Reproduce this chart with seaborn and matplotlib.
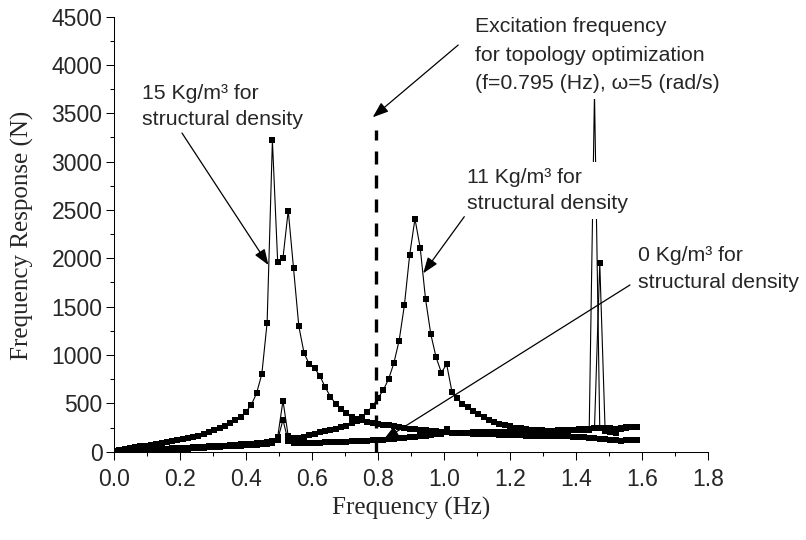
import matplotlib
matplotlib.use("Agg")
import matplotlib.pyplot as plt
from matplotlib.ticker import MultipleLocator, FormatStrFormatter
import seaborn as sns

# ---------------- data ----------------
freq_hz = [
    0.000, 0.016, 0.032, 0.048, 0.064, 0.080, 0.096, 0.112, 0.128, 0.144,
    0.160, 0.176, 0.192, 0.208, 0.224, 0.240, 0.256, 0.272, 0.288, 0.304,
    0.320, 0.336, 0.352, 0.368, 0.384, 0.400, 0.416, 0.432, 0.448, 0.464,
    0.480, 0.496, 0.512, 0.528, 0.544, 0.560, 0.576, 0.592, 0.608, 0.624,
    0.640, 0.656, 0.672, 0.688, 0.704, 0.720, 0.736, 0.752, 0.768, 0.784,
    0.800, 0.816, 0.832, 0.848, 0.864, 0.880, 0.896, 0.912, 0.928, 0.944,
    0.960, 0.976, 0.992, 1.008, 1.024, 1.040, 1.056, 1.072, 1.088, 1.104,
    1.120, 1.136, 1.152, 1.168, 1.184, 1.200, 1.216, 1.232, 1.248, 1.264,
    1.280, 1.296, 1.312, 1.328, 1.344, 1.360, 1.376, 1.392, 1.408, 1.424,
    1.440, 1.456, 1.472, 1.488, 1.504, 1.520, 1.536, 1.552, 1.568, 1.584,
]

# 15 Kg/m^3 structural density
resp_15 = [
    8, 20, 29, 37, 45, 55, 64, 72, 81, 90,
    99, 108, 118, 129, 140, 152, 165, 182, 200, 220,
    242, 266, 294, 326, 362, 414, 483, 604, 804, 1335,
    3219, 1960, 2001, 2494, 1898, 1300, 1018, 904, 862, 783,
    666, 569, 493, 438, 397, 362, 340, 325, 312, 300,
    290, 280, 271, 262, 254, 246, 239, 232, 226, 220,
    215, 210, 206, 202, 198, 195, 192, 189, 186, 184,
    182, 180, 178, 176, 174, 172, 170, 168, 167, 166,
    165, 164, 163, 162, 161, 160, 158, 156, 153, 149,
    145, 140, 135, 128, 122, 117, 114, 120, 118, 116,
]

# 11 Kg/m^3 structural density
resp_11 = [
    0, 4, 7, 10, 13, 16, 19, 22, 25, 28,
    31, 34, 37, 40, 43, 46, 49, 52, 55, 58,
    61, 64, 67, 71, 75, 79, 84, 89, 95, 103,
    115, 150, 528, 160, 142, 138, 150, 168, 186, 200,
    213, 226, 239, 253, 270, 292, 322, 362, 414, 473,
    552, 638, 749, 915, 1149, 1515, 2036, 2408, 2105, 1580,
    1215, 977, 818, 905, 621, 552, 494, 459, 421, 387,
    356, 330, 308, 290, 274, 261, 250, 241, 234, 228,
    224, 221, 219, 219, 220, 222, 225, 228, 231, 234,
    237, 240, 1950, 245, 240, 238, 250, 256, 258, 259,
]

# 0 Kg/m^3 structural density
resp_0 = [
    0, 2, 4, 6, 8, 10, 12, 14, 16, 18,
    21, 24, 27, 30, 33, 36, 39, 42, 45, 48,
    51, 54, 57, 60, 63, 66, 70, 74, 78, 83,
    92, 125, 328, 110, 92, 88, 89, 90, 92, 94,
    96, 98, 100, 102, 104, 106, 108, 111, 114, 117,
    120, 124, 128, 133, 138, 143, 148, 154, 160, 166,
    172, 178, 184, 238, 194, 196, 197, 198, 199, 200,
    200, 200, 201, 201, 202, 202, 203, 204, 205, 206,
    207, 208, 210, 212, 214, 216, 218, 220, 222, 224,
    226, 3720, 240, 215, 200, 195, 235, 250, 252, 255,
]

excitation_f = 0.795
excitation_top = 3330

x_ticks_major = 0.2
y_ticks_major = 500

# ---------------- style ----------------
sns.set_style("ticks")
plt.rcParams["font.family"] = ["Liberation Sans", "DejaVu Sans"]
plt.rcParams["axes.edgecolor"] = "black"
plt.rcParams["axes.linewidth"] = 0.75

fig = plt.figure(figsize=(8.06, 5.40), dpi=100)
ax = fig.add_axes([114 / 806, 88.3 / 540, 594 / 806, 435.2 / 540])

for vals in (resp_15, resp_11, resp_0):
    sns.lineplot(x=freq_hz, y=vals, ax=ax, color="black", linewidth=0.8,
                 marker="s", markersize=4, markeredgewidth=0,
                 estimator=None, sort=False, zorder=3)

ax.plot([excitation_f, excitation_f], [0, excitation_top], color="black",
        lw=2.4, linestyle=(0, (3.9, 3.3)), zorder=3)

ax.set_xlim(0, 1.8)
ax.set_ylim(0, 4500)
ax.xaxis.set_major_locator(MultipleLocator(x_ticks_major))
ax.xaxis.set_minor_locator(MultipleLocator(x_ticks_major / 2))
ax.yaxis.set_major_locator(MultipleLocator(y_ticks_major))
ax.yaxis.set_minor_locator(MultipleLocator(y_ticks_major / 2))
ax.xaxis.set_major_formatter(FormatStrFormatter("%.1f"))
ax.tick_params(which="major", direction="out", length=5.8, width=0.75,
               labelsize=16.5, color="black")
ax.tick_params(axis="x", which="major", pad=6)
ax.tick_params(axis="y", which="major", pad=2.5)
ax.tick_params(which="minor", direction="out", length=3.2, width=0.75, color="black")
sns.despine(ax=ax)
ax.set_xlabel("")
ax.set_ylabel("")

fig.text(411 / 806, 1 - 508 / 540, "Frequency (Hz)", family="Liberation Serif",
         fontsize=18, ha="center", va="center")
fig.text(22 / 806, 1 - 235 / 540, "Frequency Response (N)", family="Liberation Serif",
         fontsize=18, ha="center", va="center", rotation=90)

# ---------------- annotations ----------------
box = dict(facecolor="white", edgecolor="none", pad=4)
tfs = 15.3
ax.text(1.094, 4490, "Excitation frequency\nfor topology optimization\n(f=0.795 (Hz), ω=5 (rad/s)",
        fontsize=tfs, ha="left", va="top", linespacing=1.62, bbox=box, zorder=5)
ax.text(0.085, 3805, "15 Kg/m³ for\nstructural density", fontsize=tfs, ha="left",
        va="top", linespacing=1.5, bbox=box, zorder=5)
ax.text(1.070, 2937, "11 Kg/m³ for\nstructural density", fontsize=tfs, ha="left",
        va="top", linespacing=1.5, bbox=box, zorder=5)
ax.text(1.588, 2123, "0 Kg/m³ for\nstructural density", fontsize=tfs, ha="left",
        va="top", linespacing=1.5, bbox=box, zorder=5)

arrow = dict(arrowstyle="-|>,head_length=0.6,head_width=0.22", color="black",
             lw=0.9, shrinkA=0, shrinkB=0, mutation_scale=16)
for head, tail in [((0.784, 3458), (1.043, 4205)),
                   ((0.468, 1930), (0.206, 3295)),
                   ((0.937, 1845), (1.0615, 2430)),
                   ((0.816, 121), (1.5636, 1724))]:
    ax.annotate("", xy=head, xytext=tail, arrowprops=arrow, zorder=6)

fig.savefig("out.png", dpi=100)
